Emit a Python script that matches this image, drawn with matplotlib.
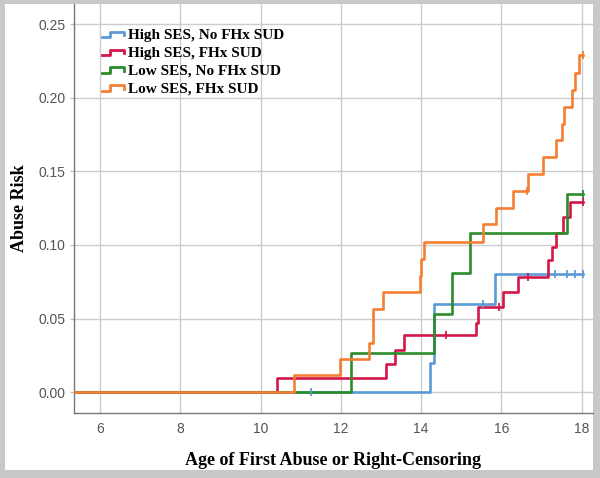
import numpy as np
import matplotlib
matplotlib.use("Agg")
import matplotlib.pyplot as plt
from matplotlib.lines import Line2D
from matplotlib.legend_handler import HandlerBase
from matplotlib.patches import Rectangle

# ---------------- data ----------------
series_names = ["High SES, No FHx SUD", "High SES, FHx SUD",
                "Low SES, No FHx SUD", "Low SES, FHx SUD"]

blue_t = [5.0, 14.21, 14.33, 15.83, 18.04]
blue_y = [0.0, 0.0197, 0.0598, 0.0802, 0.0802]
blue_cens = [11.25, 15.54, 17.33, 17.63, 17.83, 18.04]

red_t = [5.0, 10.42, 13.12, 13.35, 13.58, 15.37, 15.42, 16.04, 16.42,
         17.17, 17.25, 17.37, 17.54, 17.71, 18.04]
red_y = [0.0, 0.0095, 0.0194, 0.0286, 0.0385, 0.0470, 0.0578, 0.0680, 0.0784,
         0.0898, 0.0984, 0.1080, 0.1193, 0.1295, 0.1295]
red_cens = [14.62, 15.95, 16.65, 18.04]

green_t = [5.0, 12.25, 14.33, 14.76, 15.21, 17.63, 18.04]
green_y = [0.0, 0.0266, 0.0530, 0.0806, 0.1080, 0.1348, 0.1348]
green_cens = [18.04]

orange_t = [5.0, 10.84, 11.98, 12.70, 12.81, 13.05, 13.96, 14.00, 14.08,
            15.54, 15.87, 16.29, 16.67, 17.04, 17.35, 17.50, 17.57, 17.75,
            17.83, 17.92, 18.04]
orange_y = [0.0, 0.0115, 0.0223, 0.0335, 0.0565, 0.0678, 0.0790, 0.0903, 0.1020,
            0.1140, 0.1250, 0.1364, 0.1480, 0.1597, 0.1710, 0.1820, 0.1940, 0.2050,
            0.2170, 0.2290, 0.2290]
orange_cens = [16.63, 18.04]

x_ticks = [6, 8, 10, 12, 14, 16, 18]
y_ticks = [0.00, 0.05, 0.10, 0.15, 0.20, 0.25]

colors = ["#5b9bd5", "#d4174b", "#2b8c2b", "#f47e32"]

# ---------------- figure ----------------
W, H = 600, 478
fig = plt.figure(figsize=(W / 100, H / 100), dpi=100)
fig.patch.set_facecolor("#c8c8c8")
fig.add_artist(Rectangle((5 / W, 8 / H), 588 / W, 466 / H,
                         transform=fig.transFigure, facecolor="white",
                         edgecolor="none", zorder=-10))

ax = fig.add_axes([73.5 / W, (H - 412.7) / H, (593 - 73.5) / W, (412.7 - 4) / H])
ax.set_facecolor("none")

data = [(blue_t, blue_y, blue_cens), (red_t, red_y, red_cens),
        (green_t, green_y, green_cens), (orange_t, orange_y, orange_cens)]

handles = []
for (t, y, c), col, name in zip(data, colors, series_names):
    ln, = ax.step(t, y, where="post", color=col, lw=1.9, label=name, zorder=3)
    handles.append(ln)
    t_arr = np.array(t)
    y_arr = np.array(y)
    cy = [y_arr[np.searchsorted(t_arr, ci, side="right") - 1] for ci in c]
    ax.plot(c, cy, linestyle="none", marker="|", markersize=6,
            markeredgewidth=1.3, color=col, zorder=4)

ax.set_xlim(5.34, 18.28)
ax.set_ylim(-0.014, 0.2637)
ax.set_xticks(x_ticks)
ax.set_yticks(y_ticks)
ax.set_xticklabels([str(v) for v in x_ticks])
ax.set_yticklabels([f"{v:.2f}" for v in y_ticks])
ax.grid(True, color="#cccccc", lw=1.0, zorder=0)
ax.set_axisbelow(True)
for s in ["top", "right"]:
    ax.spines[s].set_visible(False)
for s in ["left", "bottom"]:
    ax.spines[s].set_color("#777777")
    ax.spines[s].set_linewidth(1.0)

ax.tick_params(axis="x", length=0, pad=7, labelsize=10, labelcolor="#555555")
ax.tick_params(axis="y", length=3, color="#bbbbbb", pad=3, labelsize=10,
               labelcolor="#555555")
for lab in ax.get_xticklabels() + ax.get_yticklabels():
    lab.set_family("Liberation Sans")

ax.set_xlabel("Age of First Abuse or Right-Censoring", family="Liberation Serif",
              fontweight="bold", fontsize=13, labelpad=11)
ax.set_ylabel("Abuse Risk", family="Liberation Serif", fontweight="bold",
              fontsize=13, labelpad=7)


class StepHandler(HandlerBase):
    def create_artists(self, legend, orig_handle, xdescent, ydescent,
                       width, height, fontsize, trans):
        x0 = -xdescent
        y0 = -ydescent
        lo = y0 + height * 0.2
        hi = y0 + height * 0.7
        xs = [x0, x0 + width * 0.35, x0 + width * 0.35, x0 + width * 0.92,
              x0 + width * 0.92]
        ys = [lo, lo, hi, hi, lo + (hi - lo) * 0.35]
        ln = Line2D(xs, ys, color=orig_handle.get_color(), lw=2.0)
        ln.set_transform(trans)
        return [ln]


leg = ax.legend(handles=handles, labels=series_names,
                handler_map={Line2D: StepHandler()},
                loc="upper left", bbox_to_anchor=(0.054, 0.94),
                frameon=False, handlelength=1.6, handletextpad=0.1,
                labelspacing=0.27, borderaxespad=0.0, borderpad=0.0,
                prop={"family": "Liberation Serif", "weight": "bold", "size": 11})

fig.savefig("out.png", dpi=100, facecolor=fig.get_facecolor())
